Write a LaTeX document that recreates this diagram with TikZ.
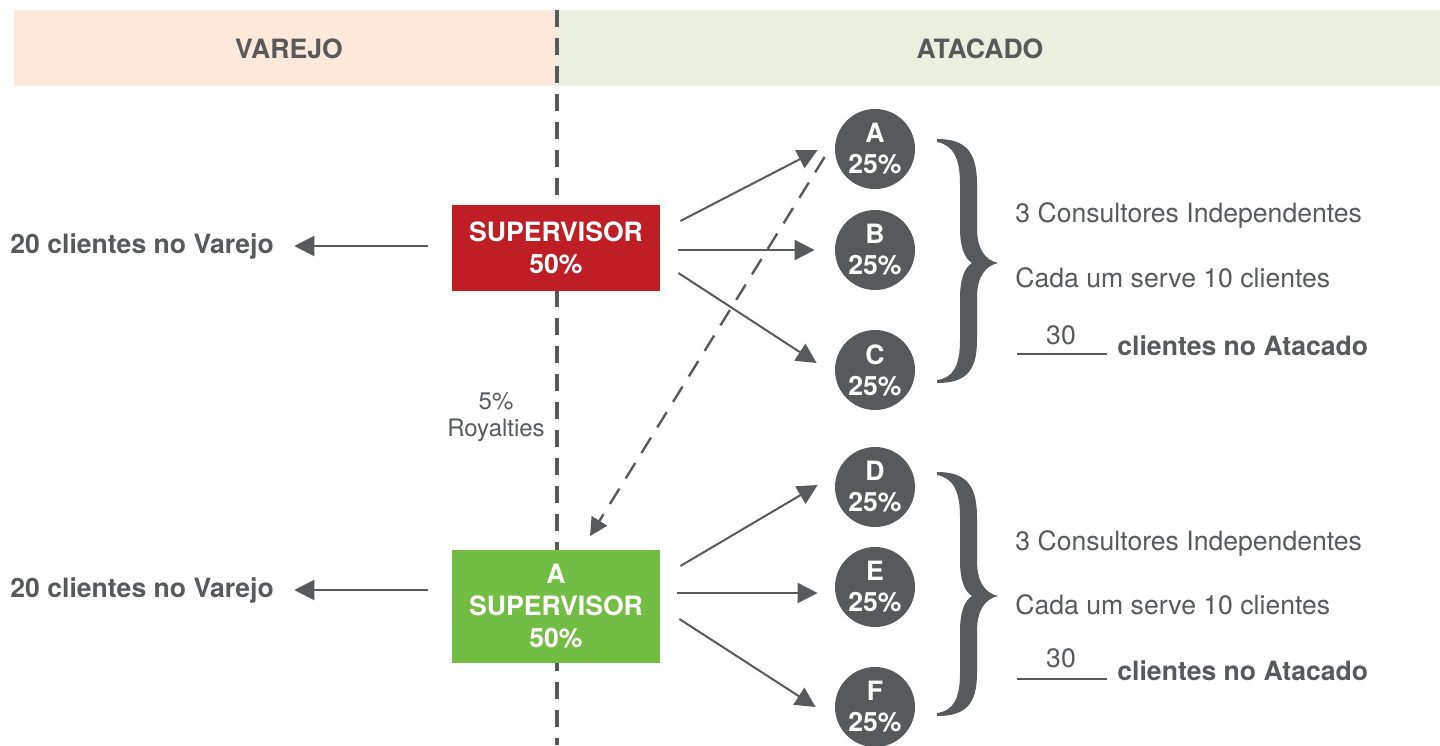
\documentclass[tikz,border=0pt]{standalone}
\usepackage{fontspec}
\setmainfont{TeX Gyre Heros}
\usetikzlibrary{arrows.meta}
\definecolor{txtgray}{HTML}{58595B}
\definecolor{supred}{HTML}{BE1E24}
\definecolor{supgreen}{HTML}{72BE44}
\definecolor{varejobg}{HTML}{FCE9DB}
\definecolor{atacadobg}{HTML}{EBEFDF}
\begin{document}
\begin{tikzpicture}[x=0.5pt,y=-0.5pt,
    font=\fontsize{13.3}{16}\selectfont, text=txtgray,
    boldtxt/.style={font=\fontsize{13.3}{16}\selectfont\bfseries},
    plaintxt/.style={anchor=base west, inner sep=0pt},
    supbox/.style={fill=#1, text=white, minimum width=104pt, align=center,
      font=\fontsize{13.3}{16}\selectfont\bfseries},
    consultor/.style={circle, fill=txtgray, text=white, minimum size=40pt,
      inner sep=0pt, align=center, font=\fontsize{13.3}{15.5}\selectfont\bfseries},
    arr/.style={draw=txtgray, line width=1pt, -{Triangle[length=10pt,width=10pt]}},
    royarr/.style={draw=txtgray, line width=1.2pt, dash pattern=on 9pt off 6pt,
      -{Triangle[length=9pt,width=9pt]}}]
  \useasboundingbox (0,0) rectangle (1440,745);
  % header
  \fill[varejobg] (14,10) rectangle (557,86);
  \fill[atacadobg] (557,10) rectangle (1440,86);
  \node[boldtxt] (varejo) at (289,49) {VAREJO};
  \node[boldtxt] (atacado) at (980,49) {ATACADO};
  \draw[txtgray, line width=1.65pt, dash pattern=on 8.5pt off 5.5pt] (557,10) -- (557,745);
  % supervisors
  \node[supbox=supred, minimum height=43pt] (sup) at (556,248) {SUPERVISOR\\50\%};
  \node[supbox=supgreen, minimum height=56.5pt] (asup) at (556,606) {A\\SUPERVISOR\\50\%};
  % consultores
  \node[consultor] (A) at (875,149) {A\\25\%};
  \node[consultor] (B) at (875,250) {B\\25\%};
  \node[consultor] (C) at (875,370) {C\\25\%};
  \node[consultor] (D) at (875,487) {D\\25\%};
  \node[consultor] (E) at (875,587) {E\\25\%};
  \node[consultor] (F) at (875,707) {F\\25\%};
  % varejo
  \node[plaintxt, boldtxt] (varejo1) at (10,253) {20 clientes no Varejo};
  \node[plaintxt, boldtxt] (varejo2) at (10,597) {20 clientes no Varejo};
  \draw[arr, shorten <=12pt, shorten >=10pt] (varejo1.east -| sup.west) -- (varejo1.east);
  \draw[arr, shorten <=12pt, shorten >=10pt] (varejo2.east -| asup.west) -- (varejo2.east);
  % atacado
  \draw[arr] ([shift={(20,-27)}]sup.east) -- ([shift={(-17,1)}]A.west);
  \draw[arr] ([shift={(18,2)}]sup.east) -- ([shift={(-20,0)}]B.west);
  \draw[arr] ([shift={(18,25)}]sup.east) -- ([shift={(-18,-7)}]C.west);
  \draw[arr] ([shift={(20,-40)}]asup.east) -- ([shift={(-17,-2)}]D.west);
  \draw[arr] ([shift={(17,-13)}]asup.east) -- ([shift={(-17,6)}]E.west);
  \draw[arr] ([shift={(19,13)}]asup.east) -- ([shift={(-19,0)}]F.west);
  % royalties
  \draw[royarr] ([shift={(-10,8)}]A.west) -- ([shift={(34,-13)}]asup.north);
  \node[align=center, font=\fontsize{12}{13.5}\selectfont] (roy) at (496,417) {5\%\\Royalties};
  % braces
  \fill[txtgray] (937,139) .. controls (965,139) and (977,151) .. (977,184) -- (977,228)
    .. controls (977,249) and (985,260) .. (998,263) .. controls (985,266) and (977,277) .. (977,298)
    -- (977,340) .. controls (977,372) and (965,383) .. (937,383) -- (937,380)
    .. controls (953,378) and (960,366) .. (960,340) -- (960,298)
    .. controls (960,280) and (964,268) .. (972,263) .. controls (964,258) and (960,246) .. (960,228)
    -- (960,184) .. controls (960,158) and (953,145) .. (937,142) -- cycle;
  \fill[txtgray, shift={(0,333)}] (937,139) .. controls (965,139) and (977,151) .. (977,184) -- (977,228)
    .. controls (977,249) and (985,260) .. (998,263) .. controls (985,266) and (977,277) .. (977,298)
    -- (977,340) .. controls (977,372) and (965,383) .. (937,383) -- (937,380)
    .. controls (953,378) and (960,366) .. (960,340) -- (960,298)
    .. controls (960,280) and (964,268) .. (972,263) .. controls (964,258) and (960,246) .. (960,228)
    -- (960,184) .. controls (960,158) and (953,145) .. (937,142) -- cycle;
  % totals
  \node[plaintxt] (cons1) at (1015,222) {3 Consultores Independentes};
  \node[plaintxt] (cada1) at (1015,287) {Cada um serve 10 clientes};
  \node[anchor=base, inner sep=0pt] (num1) at (1061,344) {30};
  \node[plaintxt, boldtxt] (atac1) at (1117,355) {clientes no Atacado};
  \draw[txtgray, line width=0.8pt] (1017,354) -- (1107,354);
  \node[plaintxt] (cons2) at (1015,550) {3 Consultores Independentes};
  \node[plaintxt] (cada2) at (1015,614) {Cada um serve 10 clientes};
  \node[anchor=base, inner sep=0pt] (num2) at (1061,667) {30};
  \node[plaintxt, boldtxt] (atac2) at (1117,680) {clientes no Atacado};
  \draw[txtgray, line width=0.8pt] (1017,679) -- (1107,679);
\end{tikzpicture}
\end{document}
